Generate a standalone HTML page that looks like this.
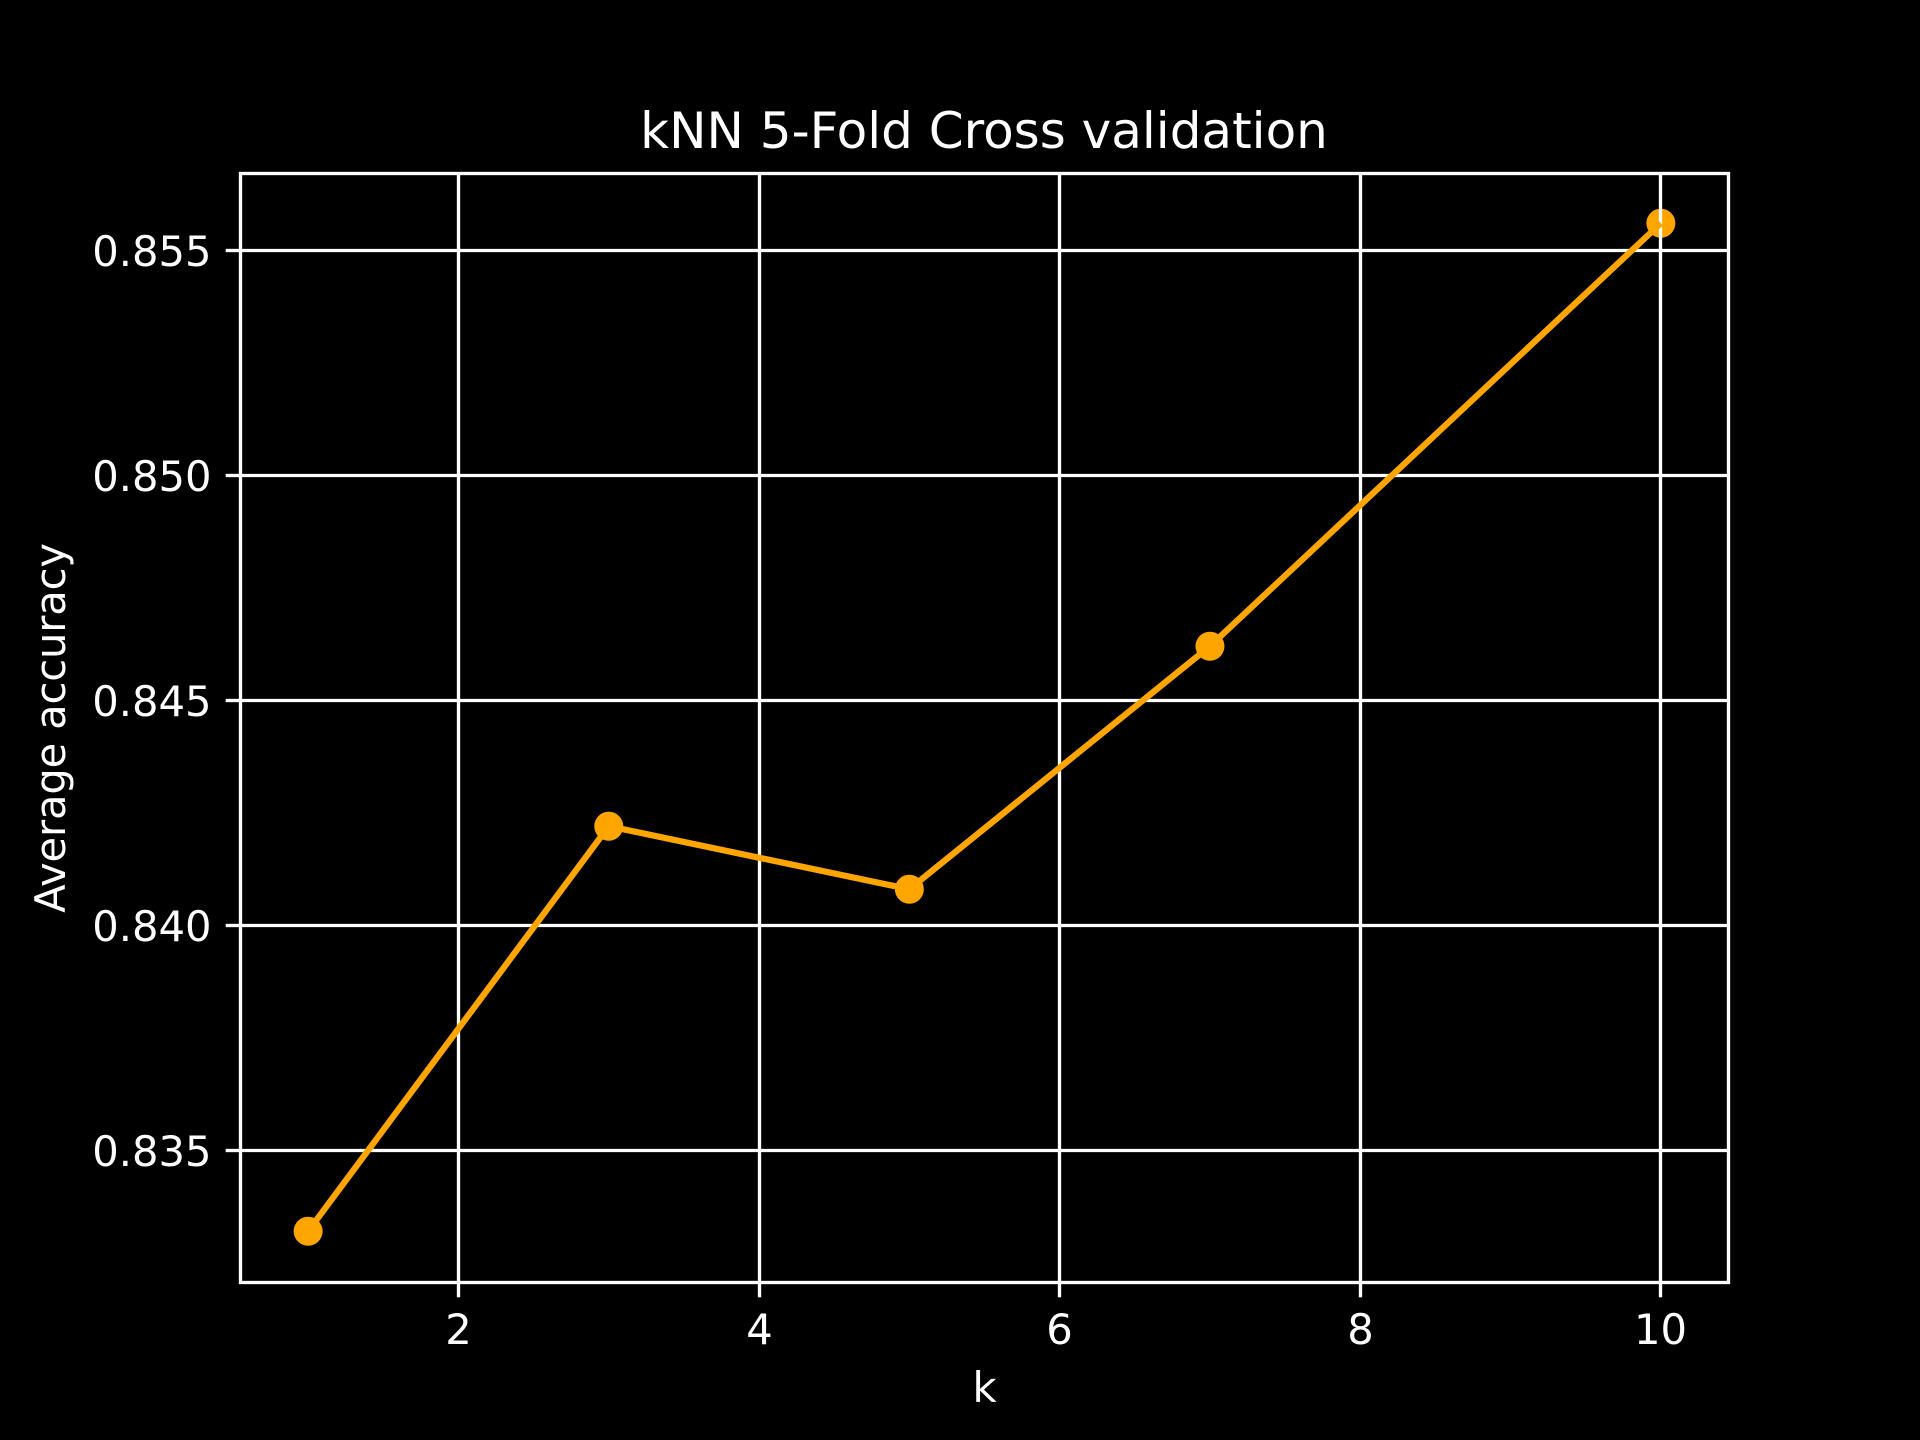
<!DOCTYPE html>
<html lang="en">
<head>
<meta charset="utf-8">
<title>kNN 5-Fold Cross validation</title>
<style>
html,body{margin:0;padding:0;background:#000;width:1920px;height:1440px;overflow:hidden}
svg{display:block}
text{font-family:"DejaVu Sans","Liberation Sans",sans-serif;fill:#fff}
</style>
</head>
<body>
<svg id="chart" xmlns="http://www.w3.org/2000/svg" width="1920" height="1440" viewBox="0 0 1920 1440">
<rect x="0" y="0" width="1920" height="1440" fill="#000"/>
<g id="markers"></g>
<g id="grid"></g>
<path id="series" fill="none" stroke="#ffa500" stroke-width="6.25" stroke-linejoin="round" stroke-linecap="butt"/>
<rect x="240.5" y="173.5" width="1488" height="1109" fill="none" stroke="#fff" stroke-width="3.33"/>
<g id="ticks"></g>
<g id="labels"></g>
<text x="984" y="148" font-size="50" text-anchor="middle">kNN 5-Fold Cross validation</text>
<text x="984.6" y="1402" font-size="41.67" text-anchor="middle">k</text>
<text transform="translate(65 728) rotate(-90)" font-size="41.67" letter-spacing="-0.15" text-anchor="middle">Average accuracy</text>
</svg>
<script>
const kValues = [1, 3, 5, 7, 10];
const accuracyValues = [0.8332, 0.8422, 0.8408, 0.8462, 0.8556];
const xTickValues = [2, 4, 6, 8, 10];
const xTickLabels = ["2", "4", "6", "8", "10"];
const yTickValues = [0.835, 0.84, 0.845, 0.85, 0.855];
const yTickLabels = ["0.835", "0.840", "0.845", "0.850", "0.855"];
const xDomain = [0.55, 10.45];
const yDomain = [0.83208, 0.85672];

const NS = "http://www.w3.org/2000/svg";
const plotLeft = 240.5, plotRight = 1728.5, plotTop = 172.8, plotBottom = 1281.6;
const frameTop = 173.5, frameBottom = 1282.5;

function xScale(v) {
  return plotLeft + (v - xDomain[0]) / (xDomain[1] - xDomain[0]) * (plotRight - plotLeft);
}
function yScale(v) {
  return plotBottom - (v - yDomain[0]) / (yDomain[1] - yDomain[0]) * (plotBottom - plotTop);
}
function snap(p) {
  return Math.floor(p) + 0.5;
}
function drawLine(parent, x1, y1, x2, y2) {
  const l = document.createElementNS(NS, "line");
  l.setAttribute("x1", x1);
  l.setAttribute("y1", y1);
  l.setAttribute("x2", x2);
  l.setAttribute("y2", y2);
  l.setAttribute("stroke", "#fff");
  l.setAttribute("stroke-width", "3.33");
  parent.appendChild(l);
  return l;
}
function drawLabel(parent, x, y, str, anchor) {
  const t = document.createElementNS(NS, "text");
  t.setAttribute("x", x);
  t.setAttribute("y", y);
  t.setAttribute("font-size", "41.67");
  t.setAttribute("text-anchor", anchor);
  t.textContent = str;
  parent.appendChild(t);
  return t;
}

const gridG = document.getElementById("grid");
const ticksG = document.getElementById("ticks");
const labelsG = document.getElementById("labels");
const markersG = document.getElementById("markers");

xTickValues.forEach(function (v, i) {
  const px = snap(xScale(v));
  const g = drawLine(gridG, px, frameTop, px, frameBottom);
  
  
  const t = drawLine(ticksG, px, frameBottom, px, frameBottom + 14.8);
  
  
  const lab = drawLabel(labelsG, px, 1344, xTickLabels[i], "middle");
  
  
});

yTickValues.forEach(function (v, i) {
  const py = snap(yScale(v));
  const g = drawLine(gridG, plotLeft, py, plotRight, py);
  
  
  const t = drawLine(ticksG, plotLeft - 14.8, py, plotLeft, py);
  
  
  const lab = drawLabel(labelsG, 211.5, py + 15.5, yTickLabels[i], "end");
  
  
});

kValues.forEach(function (k, i) {
  const c = document.createElementNS(NS, "circle");
  c.setAttribute("cx", xScale(k));
  c.setAttribute("cy", yScale(accuracyValues[i]));
  c.setAttribute("r", "14.5");
  c.setAttribute("fill", "#ffa500");
  
  
  markersG.appendChild(c);
});

document.getElementById("series").setAttribute("d", kValues.map(function (k, i) {
  return (i ? "L" : "M") + xScale(k).toFixed(2) + " " + yScale(accuracyValues[i]).toFixed(2);
}).join(" "));
</script>
</body>
</html>
